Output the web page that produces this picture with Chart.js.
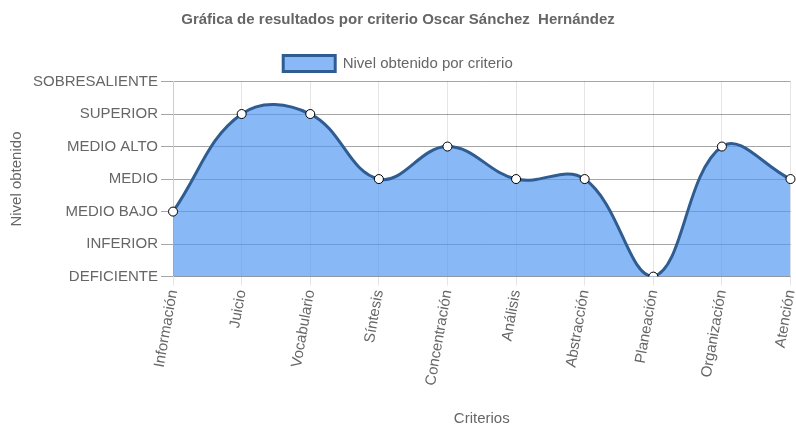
<!DOCTYPE html>
<html lang="es">
<head>
<meta charset="utf-8" />
<title>Gráfica de resultados por criterio</title>
<script src="https://cdn.jsdelivr.net/npm/chart.js@4.4.1/dist/chart.umd.min.js"></script>
<style>
  html,body{margin:0;padding:0;background:#fff;}
  #wrap{width:796px;height:435px;}
</style>
</head>
<body>
<div id="wrap"><canvas id="chart"></canvas></div>
<script>
const criterios = ['Información','Juicio','Vocabulario','Síntesis','Concentración','Análisis','Abstracción','Planeación','Organización','Atención'];
const niveles = ['DEFICIENTE','INFERIOR','MEDIO BAJO','MEDIO','MEDIO ALTO','SUPERIOR','SOBRESALIENTE'];
const nivelObtenido = [2, 5, 5, 3, 4, 3, 3, 0, 4, 3];

Chart.defaults.font.family = "'Liberation Sans', Arial, sans-serif";
Chart.defaults.color = '#666';

new Chart(document.getElementById('chart'), {
  type: 'line',
  data: {
    labels: criterios,
    datasets: [{
      label: 'Nivel obtenido por criterio',
      data: nivelObtenido,
      fill: true,
      backgroundColor: 'rgba(80,150,240,0.68)',
      borderColor: '#2f5d91',
      borderWidth: 3,
      tension: 0.4,
      pointRadius: 4.5,
      pointBackgroundColor: '#fff',
      pointBorderColor: '#000',
      pointBorderWidth: 1
    }]
  },
  options: {
    responsive: true,
    maintainAspectRatio: false,
    animation: false,
    layout: { padding: { left: 4, right: 4, top: 2, bottom: 3 } },
    plugins: {
      title: { display: true, text: 'Gráfica de resultados por criterio Oscar Sánchez  Hernández', font: { size: 15, weight: 'bold' }, padding: { top: 9, bottom: 14.5 } },
      legend: { labels: { font: { size: 15 }, boxWidth: 52, boxHeight: 16, padding: 12 } },
      tooltip: { enabled: false }
    },
    scales: {
      x: {
        grid: { color: 'rgba(0,0,0,0.1)', tickLength: 9 },
        ticks: { font: { size: 15 }, maxRotation: 80, minRotation: 80 },
        title: { display: true, text: 'Criterios', font: { size: 15 }, padding: { top: 20, bottom: 4 } },
        afterFit: s => { s.paddingRight = 0; }
      },
      y: {
        min: 0, max: 6,
        grid: { color: 'rgba(0,0,0,0.35)', tickLength: 12 },
        ticks: { stepSize: 1, font: { size: 15 }, callback: v => niveles[v] },
        title: { display: true, text: 'Nivel obtenido', font: { size: 15 } }
      }
    }
  }
});
</script>
</body>
</html>
